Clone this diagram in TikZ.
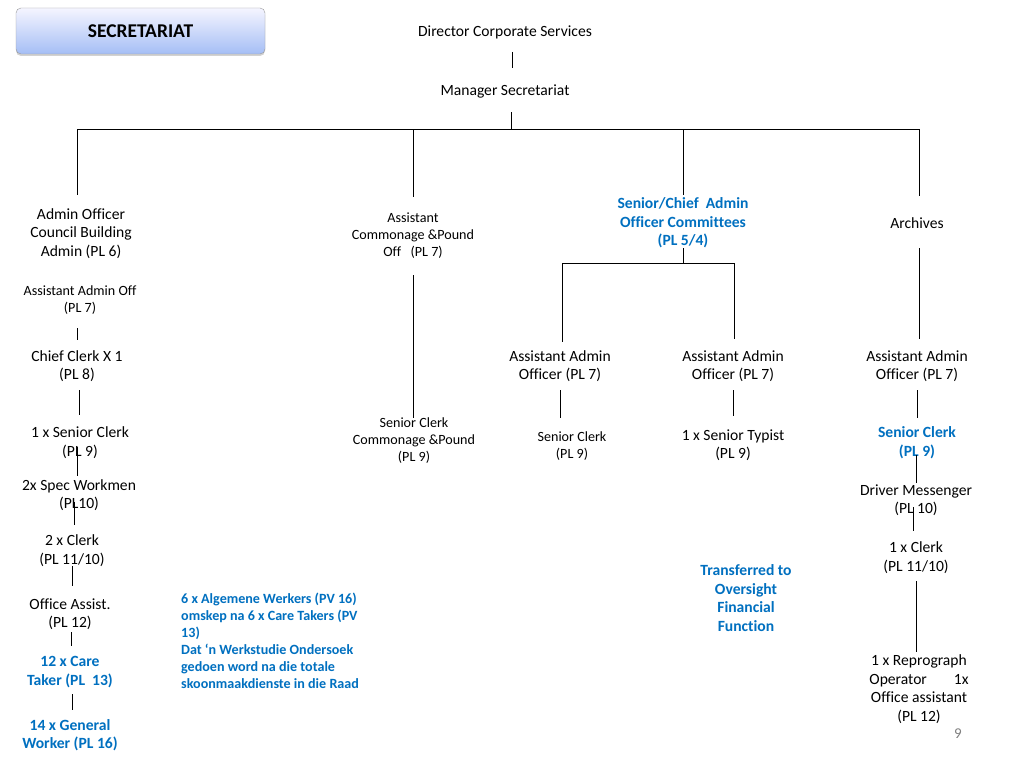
\documentclass[tikz,border=0pt]{standalone}
\usepackage{fontspec}
\setmainfont[Ligatures=NoCommon]{Carlito}
\usetikzlibrary{shadows}
\definecolor{obl}{HTML}{0070C0}
\tikzset{
  t/.style={align=center,inner sep=0pt,yshift=-1pt,font=\fontsize{15.6}{18.5}\selectfont},
  ts/.style={align=center,inner sep=0pt,yshift=-1pt,font=\fontsize{14.1}{17}\selectfont},
  tb/.style={align=center,inner sep=0pt,yshift=-1pt,text=obl,font=\fontsize{15.6}{18.5}\selectfont\bfseries},
  tp/.style={align=left,inner sep=0pt,text=obl,font=\fontsize{14.1}{17}\selectfont\bfseries},
  ln/.style={line width=0.85pt,black},
}
\begin{document}
\begin{tikzpicture}[x=1pt,y=-1pt]
\useasboundingbox[fill=white] (0,0) rectangle (1024,768);
% title box
\node[draw=gray!80,rounded corners=5pt,top color=blue!4,bottom color={rgb,255:red,165;green,190;blue,245},
  drop shadow={opacity=0.35,shadow xshift=0pt,shadow yshift=-2pt},
  minimum width=249pt,minimum height=46pt,inner sep=0pt,
  font=\fontsize{19.5}{22}\selectfont\bfseries] (title) at (140.5,31) {SECRETARIAT};

\node[t] (dir) at (505,31) {Director Corporate Services};
\node[t] (mgr) at (505,90) {Manager Secretariat};
\draw[ln] (512,52) -- (512,68);
\draw[ln] (511,112) -- (511,129);
% main bus
\coordinate (busL) at (77,129);
\coordinate (busR) at (919,129);
\draw[ln] (busL) -- (busR);
\draw[ln] (77,129) -- (77,195);
\draw[ln] (413,129) -- (413,197);
\draw[ln] (683,129) -- (683,195);
\draw[ln] (919,129) -- (919,196);

% heads
\node[t] (ao) at (81,232.5) {Admin Officer\\Council Building\\Admin (PL 6)};
\node[ts] (acp) at (413,235) {Assistant\\Commonage \&Pound\\Off\ \ \ (PL 7)};
\node[tb] (sca) at (683,222) {Senior/Chief\ \ Admin\\Officer Committees\\(PL 5/4)};
\node[t] (arc) at (917,222) {Archives};

% left column
\node[ts] (aao) at (80,299.5) {Assistant Admin Off\\(PL 7)};
\draw[ln] (77,328) -- (77,340);
\node[t] (cc) at (77,365) {Chief Clerk X 1\\(PL 8)};
\draw[ln] (79,390) -- (79,415);
\node[t] (sc1) at (80,441.5) {1 x Senior Clerk\\(PL 9)};
\draw[ln] (77,447) -- (77,476);
\node[t] (sw) at (79,494) {2x Spec Workmen\\(PL10)};
\draw[ln] (74,502) -- (74,525);
\node[t] (cl2) at (72,549.5) {2 x Clerk\\(PL 11/10)};
\draw[ln] (72,566) -- (72,586);
\node[t] (oa) at (70,613) {Office Assist.\\(PL 12)};
\draw[ln] (71,632) -- (71,646);
\node[tb] (ct) at (70,671) {12 x Care\\Taker (PL\ \ 13)};
\draw[ln] (72,694) -- (72,710);
\node[tb] (gw) at (70,734) {14 x General\\Worker (PL 16)};

\node[tp,anchor=north west] (note) at (181,593) {6 x Algemene Werkers (PV 16)\\omskep na 6 x Care Takers (PV\\13)\\Dat ‘n Werkstudie Ondersoek\\gedoen word na die totale\\skoonmaakdienste in die Raad};

% commonage
\draw[ln] (413,275) -- (413,418);
\node[ts] (scc) at (414,439.5) {Senior Clerk\\Commonage \&Pound\\(PL 9)};

% committees
\draw[ln] (683,248) -- (683,263);
\draw[ln] (562,263) -- (734,263);
\draw[ln] (562,263) -- (562,342);
\draw[ln] (734,263) -- (734,339);
\node[t] (aa1) at (560,365) {Assistant Admin\\Officer (PL 7)};
\draw[ln] (560,390) -- (560,418);
\node[ts] (sc2) at (572,445.5) {Senior Clerk\\(PL 9)};
\node[t] (aa2) at (733,365) {Assistant Admin\\Officer (PL 7)};
\draw[ln] (733,390) -- (733,416);
\node[t] (st) at (733,444) {1 x Senior Typist\\(PL 9)};
\node[tb] (tr) at (746,597) {Transferred to\\Oversight\\Financial\\Function};

% archives
\draw[ln] (919,248) -- (919,339);
\node[t] (aa3) at (917,365) {Assistant Admin\\Officer (PL 7)};
\draw[ln] (917,390) -- (917,418);
\node[tb] (sc3) at (917,441.5) {Senior Clerk\\(PL 9)};
\draw[ln] (916,455) -- (916,483);
\node[t] (dm) at (916,499) {Driver Messenger\\(PL 10)};
\draw[ln] (913,507) -- (913,531);
\node[t] (cl1) at (916,556.5) {1 x Clerk\\(PL 11/10)};
\draw[ln] (916,581) -- (916,652);
\node[t] (rep) at (919,688) {1 x Reprograph\\Operator\hspace{27pt}1x\\Office assistant\\(PL 12)};

\node[inner sep=0pt,text=gray,font=\fontsize{15}{16}\selectfont] (pg) at (958,734) {9};
\end{tikzpicture}
\end{document}
